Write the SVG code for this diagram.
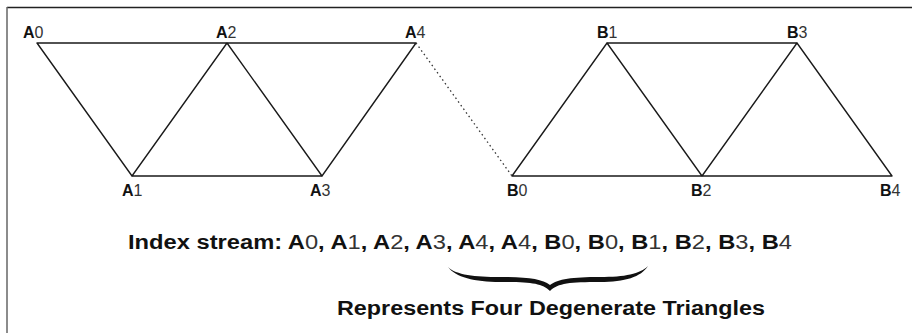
<svg xmlns="http://www.w3.org/2000/svg" width="912" height="333" viewBox="0 0 912 333">
<style>
.e{stroke:#1a1a1a;stroke-width:1.4;fill:none;stroke-linecap:round}
.lbl{font-family:"Liberation Sans",Arial,sans-serif;font-size:16px;fill:#111}
.b{font-weight:bold}
.d{font-weight:normal;fill:#333}
.cap{font-family:"Liberation Sans",Arial,sans-serif;font-size:20px;font-weight:bold;fill:#111}
</style>
<rect width="912" height="333" fill="#fff"/>
<g id="frame">
<line x1="7" y1="7.5" x2="912" y2="7.5" stroke="#222" stroke-width="1.5"/>
<line x1="7" y1="7" x2="7" y2="333" stroke="#666" stroke-width="1.5"/>
</g>
<g id="connectors">
<path class="e" d="M37 43H416M37 43L132 176L227 43L322 176L416 43M132 176H322"/>
<path class="e" d="M607 43H797M512 176H892M512 176L607 43L702 176L797 43L892 176"/>
<line x1="416" y1="43" x2="512" y2="176" stroke="#333" stroke-width="1.3" stroke-dasharray="1.5,3"/>
</g>
<g id="A0"><text class="lbl" x="23" y="38"><tspan class="b">A</tspan><tspan class="d">0</tspan></text></g>
<g id="A1"><text class="lbl" x="122" y="196"><tspan class="b">A</tspan><tspan class="d">1</tspan></text></g>
<g id="A2"><text class="lbl" x="216" y="38"><tspan class="b">A</tspan><tspan class="d">2</tspan></text></g>
<g id="A3"><text class="lbl" x="310" y="196"><tspan class="b">A</tspan><tspan class="d">3</tspan></text></g>
<g id="A4"><text class="lbl" x="405" y="38"><tspan class="b">A</tspan><tspan class="d">4</tspan></text></g>
<g id="B0"><text class="lbl" x="507" y="196"><tspan class="b">B</tspan><tspan class="d">0</tspan></text></g>
<g id="B1"><text class="lbl" x="597" y="38"><tspan class="b">B</tspan><tspan class="d">1</tspan></text></g>
<g id="B2"><text class="lbl" x="691" y="196"><tspan class="b">B</tspan><tspan class="d">2</tspan></text></g>
<g id="B3"><text class="lbl" x="787" y="38"><tspan class="b">B</tspan><tspan class="d">3</tspan></text></g>
<g id="B4"><text class="lbl" x="880" y="196"><tspan class="b">B</tspan><tspan class="d">4</tspan></text></g>
<g id="index">
<text class="cap" x="128" y="249" textLength="664" lengthAdjust="spacingAndGlyphs">Index stream: A<tspan class="d">0</tspan>, A<tspan class="d">1</tspan>, A<tspan class="d">2</tspan>, A<tspan class="d">3</tspan>, A<tspan class="d">4</tspan>, A<tspan class="d">4</tspan>, B<tspan class="d">0</tspan>, B<tspan class="d">0</tspan>, B<tspan class="d">1</tspan>, B<tspan class="d">2</tspan>, B<tspan class="d">3</tspan>, B<tspan class="d">4</tspan></text>
</g>
<g id="brace">
<path fill="#111" d="M448 267C455 277 475 282 500 282C530 282 542 283 550 291C558 283 570 282 600 282C625 282 641 277 648 266C640 274 625 277 600 277C572 277 558 279 550 285C542 279 528 277 500 277C475 277 456 275 448 267Z"/>
</g>
<g id="caption">
<text class="cap" x="337" y="315" textLength="428" lengthAdjust="spacingAndGlyphs">Represents Four Degenerate Triangles</text>
</g>
</svg>
